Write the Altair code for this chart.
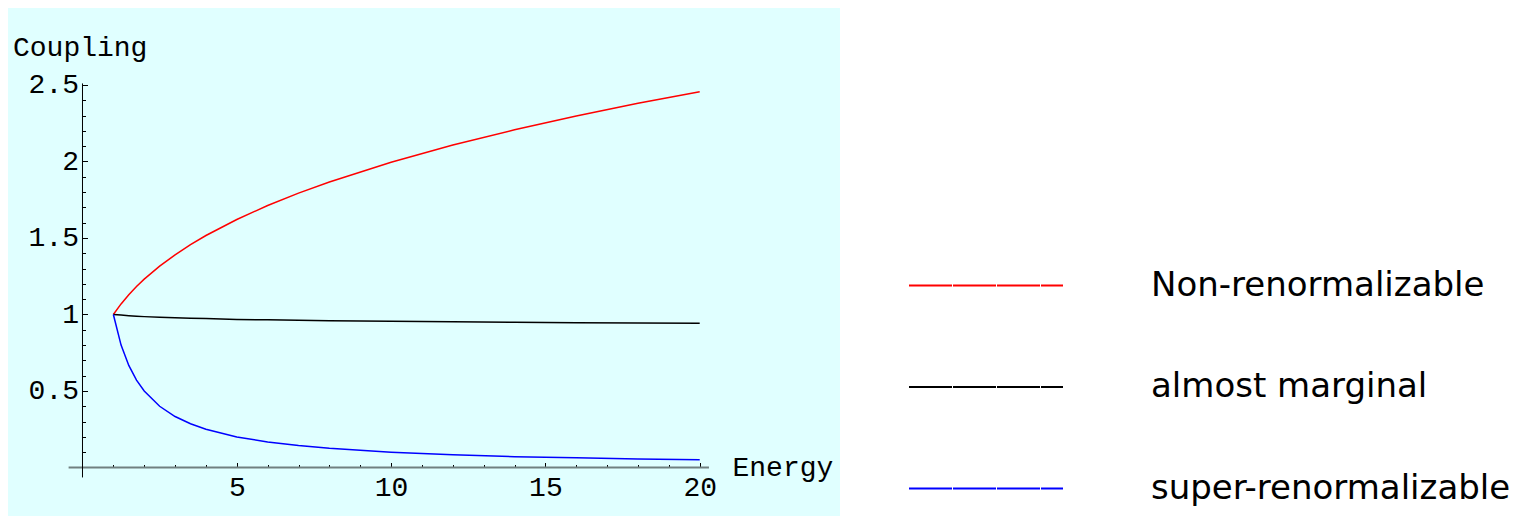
import altair as alt
import pandas as pd

# ---- data ----
energy = [1, 1.25, 1.5, 1.75, 2, 2.5, 3, 3.5, 4, 5, 6, 7, 8, 10, 12, 14, 16, 18, 20]
non_renorm = [1.000, 1.069, 1.129, 1.183, 1.231, 1.316, 1.390, 1.456, 1.516, 1.621,
              1.712, 1.793, 1.866, 1.995, 2.107, 2.207, 2.297, 2.380, 2.456]
marginal = [1.000, 0.996, 0.992, 0.989, 0.986, 0.982, 0.978, 0.975, 0.973, 0.968,
            0.965, 0.962, 0.959, 0.955, 0.952, 0.949, 0.946, 0.944, 0.942]
super_renorm = [1.000, 0.800, 0.667, 0.571, 0.500, 0.400, 0.333, 0.286, 0.250, 0.200,
                0.167, 0.143, 0.125, 0.100, 0.083, 0.071, 0.063, 0.056, 0.050]

series_names = ["Non-renormalizable", "almost marginal", "super-renormalizable"]
series_colors = ["#ff0000", "#000000", "#0000ff"]

x_label_values = [5, 10, 15, 20]
x_tick_values = [1, 2, 3, 4, 5, 6, 7, 8, 9, 10, 11, 12, 13, 14, 15, 16, 17, 18, 19, 20]
y_label_values = [0.5, 1, 1.5, 2, 2.5]
y_tick_values = [0.1, 0.2, 0.3, 0.4, 0.5, 0.6, 0.7, 0.8, 0.9, 1.0,
                 1.1, 1.2, 1.3, 1.4, 1.5, 1.6, 1.7, 1.8, 1.9, 2.0,
                 2.1, 2.2, 2.3, 2.4, 2.5]

# axis line extents (data units)
x_axis_span = [-0.45, 20.3]
y_axis_span = [-0.065, 2.51]

rows = []
for name, vals in zip(series_names, [non_renorm, marginal, super_renorm]):
    for e, v in zip(energy, vals):
        rows.append({"energy": e, "coupling": v, "series": name})
df = pd.DataFrame(rows)

W, H = 832, 508
X_DOMAIN = [-2.414, 24.546]
Y_DOMAIN = [-0.317, 3.003]
MONO = "Liberation Mono"

def xs():
    return alt.Scale(domain=X_DOMAIN, nice=False, zero=False)

def ys():
    return alt.Scale(domain=Y_DOMAIN, nice=False, zero=False)

# horizontal axis line
x_line = alt.Chart(pd.DataFrame({"a": [x_axis_span[0]], "b": [x_axis_span[1]], "y": [0]})).mark_rule(
    color="#708080", strokeWidth=2
).encode(
    x=alt.X("a:Q", scale=xs(), axis=None),
    x2="b:Q",
    y=alt.Y("y:Q", scale=ys(), axis=None),
)

# vertical axis line, carrying the tick-only axes
y_line = alt.Chart(pd.DataFrame({"x": [0], "a": [y_axis_span[0]], "b": [y_axis_span[1]]})).mark_rule(
    color="black", strokeWidth=1
).encode(
    x=alt.X("x:Q", scale=xs(), axis=alt.Axis(
        orient="top", offset=-(H - 48.5), values=x_tick_values, labels=False,
        domain=False, grid=False, tickColor="black", tickWidth=1,
        tickSize={"condition": {"test": "datum.value % 5 === 0", "value": 5}, "value": 3},
        title=None)),
    y=alt.Y("a:Q", scale=ys(), axis=alt.Axis(
        orient="right", offset=-(W - 74.5), values=y_tick_values, labels=False,
        domain=False, grid=False, tickColor="black", tickWidth=1,
        tickSize={"condition": {"test": "abs(datum.value * 2 - round(datum.value * 2)) < 0.001",
                                "value": 5}, "value": 3},
        title=None)),
    y2="b:Q",
)

lines = alt.Chart(df).mark_line(strokeWidth=1.5).encode(
    x=alt.X("energy:Q", scale=xs(), axis=alt.Axis(
        orient="bottom", offset=-48.5, values=x_label_values, format="~g", domain=False,
        ticks=False, grid=False, labelFont=MONO, labelFontSize=28, labelPadding=6,
        labelColor="black",
        title="Energy", titleFont=MONO, titleFontSize=28, titleFontWeight="normal",
        titleColor="black", titleX=724, titleY=7.5, titleAngle=0, titleAlign="left",
        titleBaseline="alphabetic")),
    y=alt.Y("coupling:Q", scale=ys(), axis=alt.Axis(
        orient="left", offset=-74.5, values=y_label_values, format="~g", domain=False,
        ticks=False, grid=False, labelFont=MONO, labelFontSize=28, labelPadding=4,
        labelColor="black",
        title="Coupling", titleFont=MONO, titleFontSize=28, titleFontWeight="normal",
        titleColor="black", titleX=-70, titleY=47, titleAngle=0, titleAlign="left",
        titleBaseline="alphabetic")),
    color=alt.Color("series:N", scale=alt.Scale(domain=series_names, range=series_colors),
                    legend=alt.Legend(
                        orient="none", legendX=900, legendY=259.5, title=None,
                        symbolType="stroke", symbolSize=154 * 154, symbolStrokeWidth=2,
                        symbolDash=[43, 1], clipHeight=36, rowPadding=65.5,
                        labelFont="DejaVu Sans", labelFontSize=34, labelColor="black",
                        labelOffset=87, labelLimit=700, padding=0)),
    order=alt.Order("energy:Q"),
)

chart = alt.layer(x_line, y_line, lines).resolve_axis(
    x="independent", y="independent"
).properties(
    width=W, height=H,
    autosize=alt.AutoSizeParams(type="none"),
    padding={"left": 0, "top": 0, "right": 671, "bottom": 0},
).configure_view(
    fill="#e0ffff", stroke=None
)

chart.save("out.html", embed_options={"renderer": "svg", "actions": False})
